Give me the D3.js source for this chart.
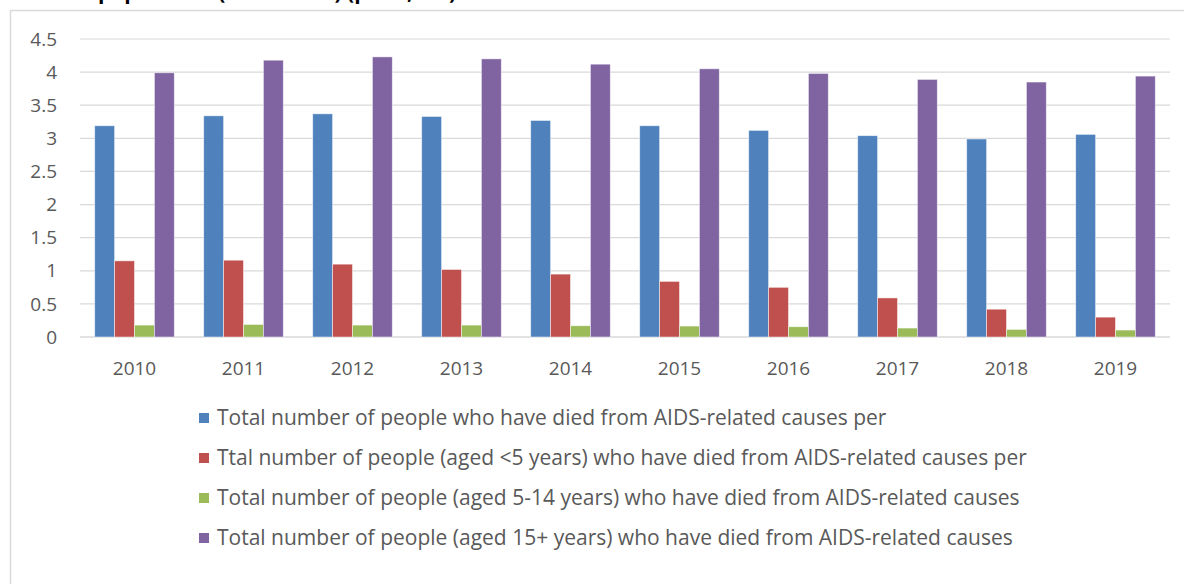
<!DOCTYPE html>
<html>
<head>
<meta charset="utf-8">
<script src="https://cdn.jsdelivr.net/npm/d3@7"></script>
<style>
  body { margin: 0; background: #fff; }
  svg { display: block; font-family: "Open Sans", Lato, sans-serif; }
</style>
</head>
<body>
<svg></svg>
<script>
const width = 1184;
const height = 584;

// data
const years = ["2010", "2011", "2012", "2013", "2014", "2015", "2016", "2017", "2018", "2019"];
const seriesNames = [
  "Total number of people who have died from AIDS-related causes per",
  "Ttal number of people (aged <5 years) who have died from AIDS-related causes per",
  "Total number of people (aged 5-14 years) who have died from AIDS-related causes",
  "Total number of people (aged 15+ years) who have died from AIDS-related causes"
];
const allAges = [3.19, 3.34, 3.37, 3.33, 3.27, 3.19, 3.12, 3.04, 2.99, 3.06];
const under5 = [1.15, 1.16, 1.10, 1.02, 0.95, 0.84, 0.75, 0.59, 0.42, 0.30];
const aged5to14 = [0.18, 0.19, 0.18, 0.18, 0.17, 0.165, 0.155, 0.135, 0.115, 0.105];
const aged15plus = [3.99, 4.18, 4.23, 4.20, 4.12, 4.05, 3.98, 3.89, 3.85, 3.94];
const yTicks = [0, 0.5, 1, 1.5, 2, 2.5, 3, 3.5, 4, 4.5];
const colors = ["#4F81BD", "#C0504D", "#9BBB59", "#8064A2"];

const series = [allAges, under5, aged5to14, aged15plus];

const svg = d3.select('svg')
  .attr('width', width)
  .attr('height', height);

// chart frame (runs off the top/right/bottom in the original)
svg.append('rect')
  .attr('x', 10.5).attr('y', 10.5)
  .attr('width', 1200).attr('height', 700)
  .attr('fill', 'none')
  .attr('stroke', '#d9d9d9')
  .attr('stroke-width', 1.5);

// title, only its descenders show in the original
svg.append('text')
  .attr('x', 98).attr('y', -1)
  .attr('font-weight', 'bold')
  .attr('font-size', 21)
  .attr('fill', '#000')
  .text('population (in millions) (per 1,000)');

const x = d3.scaleBand()
  .domain(years)
  .range([80, 1170])
  .paddingInner(0.27)
  .paddingOuter(0.135);

const x1 = d3.scaleBand()
  .domain(d3.range(series.length))
  .range([0, x.bandwidth()]);

const y = d3.scaleLinear()
  .domain([0, 4.5])
  .range([337, 39]);

// gridlines
svg.append('g')
  .selectAll('line')
  .data(yTicks)
  .join('line')
    .attr('x1', 80).attr('x2', 1170)
    .attr('y1', (d) => y(d)).attr('y2', (d) => y(d))
    .attr('stroke', '#d9d9d9')
    .attr('stroke-width', (d) => d === 0 ? 1.5 : 1.2);

// y axis labels
svg.append('g')
  .selectAll('text')
  .data(yTicks)
  .join('text')
    .attr('x', 57)
    .attr('y', (d) => y(d))
    .attr('dy', '0.35em')
    .attr('text-anchor', 'end')
    .attr('font-size', 19)
    .attr('fill', '#595959')
    .text((d) => d);

// bars
const groups = svg.append('g')
  .selectAll('g')
  .data(years)
  .join('g')
    .attr('transform', (d) => `translate(${x(d)},0)`);

groups.selectAll('rect')
  .data((d, i) => series.map((s, k) => ({ k, v: s[i] })))
  .join('rect')
    .attr('x', (d) => x1(d.k))
    .attr('width', x1.bandwidth())
    .attr('y', (d) => y(d.v))
    .attr('height', (d) => y(0) - y(d.v))
    .attr('fill', (d) => colors[d.k])
    .attr('stroke', '#fff')
    .attr('stroke-opacity', 0.6)
    .attr('stroke-width', 0.8);

// x axis labels
svg.append('g')
  .selectAll('text')
  .data(years)
  .join('text')
    .attr('x', (d) => x(d) + x.bandwidth() / 2)
    .attr('y', 368)
    .attr('dy', '0.35em')
    .attr('text-anchor', 'middle')
    .attr('font-size', 19)
    .attr('fill', '#595959')
    .text((d) => d);

// legend
const legend = svg.append('g')
  .selectAll('g')
  .data(seriesNames)
  .join('g')
    .attr('transform', (d, i) => `translate(199,${418 + i * 40})`);

legend.append('rect')
  .attr('x', 0).attr('y', -5)
  .attr('width', 10).attr('height', 10)
  .attr('fill', (d, i) => colors[i]);

legend.append('text')
  .attr('x', 18)
  .attr('y', 0)
  .attr('dy', '0.35em')
  .attr('font-size', 21)
  .attr('fill', '#595959')
  .text((d) => d);
</script>
</body>
</html>
